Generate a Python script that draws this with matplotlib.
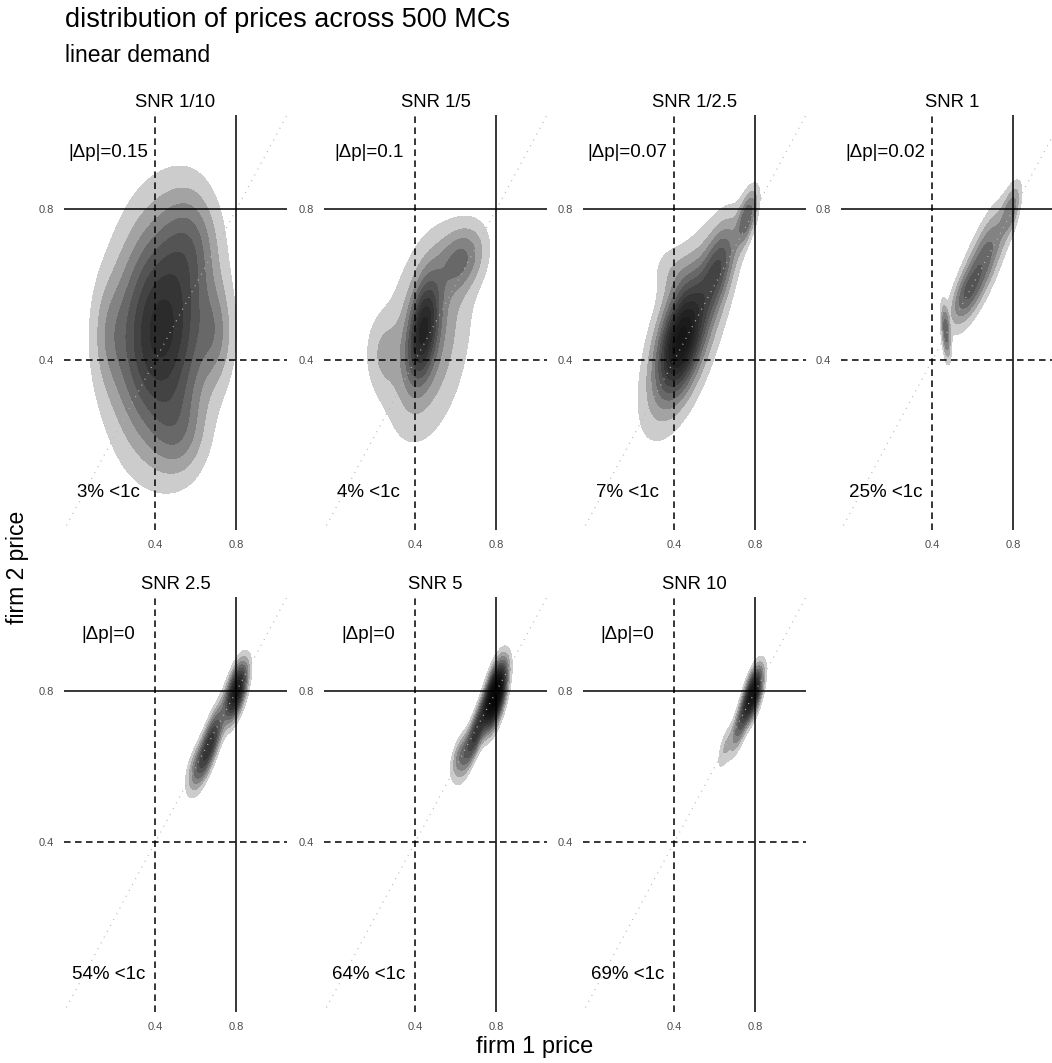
import numpy as np
import matplotlib
matplotlib.use("Agg")
import matplotlib.pyplot as plt

plt.rcParams["font.family"] = ["Liberation Sans", "DejaVu Sans"]

# ---- data -------------------------------------------------------------
snr_labels = ["SNR 1/10", "SNR 1/5", "SNR 1/2.5", "SNR 1", "SNR 2.5", "SNR 5", "SNR 10"]
abs_price_gap = ["0.15", "0.1", "0.07", "0.02", "0", "0", "0"]
share_below_1c = ["3%", "4%", "7%", "25%", "54%", "64%", "69%"]
# number of density bands shown in each panel
density_bands = [8, 9, 11, 5, 10, 16, 11]

# smoothed joint price density per panel, as Gaussian components:
# (firm1 mean, firm2 mean, sd1, sd2, correlation, weight)
comp_snr_1_10 = [
    (0.43, 0.48, 0.155, 0.20, 0.10, 1.00),
    (0.58, 0.72, 0.09, 0.10, 0.00, 0.07),
    (0.52, 0.20, 0.09, 0.08, 0.00, 0.05),
    (0.17, 0.47, 0.06, 0.10, 0.00, 0.03),
    (0.70, 0.47, 0.06, 0.09, 0.00, 0.04),
]
comp_snr_1_5 = [
    (0.44, 0.48, 0.05, 0.09, 0.40, 0.35),
    (0.46, 0.46, 0.14, 0.18, 0.30, 1.00),
    (0.63, 0.67, 0.08, 0.06, 0.30, 0.20),
    (0.24, 0.42, 0.06, 0.07, 0.00, 0.08),
]
comp_snr_1_2_5 = [
    (0.43, 0.45, 0.07, 0.09, 0.45, 0.50),
    (0.46, 0.48, 0.13, 0.16, 0.65, 1.00),
    (0.62, 0.65, 0.06, 0.08, 0.60, 0.20),
    (0.76, 0.78, 0.035, 0.05, 0.60, 0.08),
    (0.38, 0.64, 0.07, 0.05, 0.00, 0.05),
]
comp_snr_1 = [
    (0.65, 0.66, 0.085, 0.100, 0.78, 1.00),
    (0.79, 0.80, 0.030, 0.045, 0.60, 0.12),
    (0.56, 0.57, 0.050, 0.050, 0.60, 0.20),
    (0.467, 0.475, 0.014, 0.050, -0.50, 0.10),
]
comp_snr_2_5 = [
    (0.80, 0.80, 0.035, 0.050, 0.60, 1.00),
    (0.67, 0.66, 0.045, 0.065, 0.80, 0.90),
    (0.60, 0.60, 0.035, 0.045, 0.60, 0.20),
]
comp_snr_5 = [
    (0.795, 0.79, 0.035, 0.055, 0.60, 1.00),
    (0.70, 0.69, 0.045, 0.065, 0.85, 0.45),
    (0.62, 0.63, 0.030, 0.040, 0.60, 0.12),
]
comp_snr_10 = [
    (0.79, 0.795, 0.030, 0.045, 0.60, 1.00),
    (0.73, 0.72, 0.035, 0.055, 0.80, 0.50),
    (0.65, 0.65, 0.025, 0.040, 0.70, 0.12),
]
panel_components = [comp_snr_1_10, comp_snr_1_5, comp_snr_1_2_5, comp_snr_1,
                    comp_snr_2_5, comp_snr_5, comp_snr_10]

price_ticks = [0.4, 0.8]
nash_price = 0.4
monopoly_price = 0.8

# ---- helpers ------------------------------------------------------------
def mixture_density(components, X, Y):
    Z = np.zeros_like(X)
    for m1, m2, s1, s2, r, w in components:
        dx = (X - m1) / s1
        dy = (Y - m2) / s2
        q = (dx * dx - 2 * r * dx * dy + dy * dy) / (1 - r * r)
        Z += w * np.exp(-0.5 * q) / (2 * np.pi * s1 * s2 * np.sqrt(1 - r * r))
    return Z

xlim = (-0.05, 1.05)
ylim = (-0.05, 1.05)
gx = np.linspace(-0.05, 1.15, 480)
gy = np.linspace(-0.05, 1.05, 440)
X, Y = np.meshgrid(gx, gy)

W, H = 1052, 1063
fig = plt.figure(figsize=(W / 100, H / 100), dpi=100)

col_left = [64, 324, 583, 841]
row_top = [115, 597]
pw, ph = 223, 415

tick_color = "#4d4d4d"
for i, comps in enumerate(panel_components):
    r, c = divmod(i, 4)
    ax = fig.add_axes([col_left[c] / W, 1 - (row_top[r] + ph) / H, pw / W, ph / H])
    Z = mixture_density(comps, X, Y)
    Z = Z / Z.max()
    n = density_bands[i]
    levels = [k / (n + 0.5) for k in range(1, n + 1)] + [1.01]
    colors = [str(0.8 ** k) for k in range(1, n + 1)]
    cs = ax.contourf(X, Y, Z, levels=levels, colors=colors)
    cs.set_edgecolor("face")
    cs.set_linewidth(0.4)

    ax.plot([-0.1, 1.2], [-0.1, 1.2], color="#b8b8b8", lw=0.9,
            linestyle=(0, (0.8, 4.5)), solid_capstyle="round")
    ax.axhline(monopoly_price, color="black", lw=1.1)
    ax.axvline(monopoly_price, color="black", lw=1.1)
    ax.axhline(nash_price, color="black", lw=1.1, linestyle=(0, (4.3, 2.9)))
    ax.axvline(nash_price, color="black", lw=1.1, linestyle=(0, (4.3, 2.9)))

    ax.text(0.17, 0.95, f"|\u0394p|={abs_price_gap[i]}", ha="center", va="center",
            fontsize=13.5)
    ax.text(0.17, 0.05, f"{share_below_1c[i]} <1c", ha="center", va="center",
            fontsize=13.5)

    ax.set_xlim(*xlim)
    ax.set_ylim(*ylim)
    ax.set_xticks(price_ticks)
    ax.set_yticks(price_ticks)
    ax.set_xticklabels([f"{t:g}" for t in price_ticks])
    ax.set_yticklabels([f"{t:g}" for t in price_ticks])
    ax.tick_params(length=0, labelsize=8, labelcolor=tick_color, pad=7)
    for s in ax.spines.values():
        s.set_visible(False)
    ax.set_title(snr_labels[i], fontsize=13.3, pad=6)

fig.text(65 / W, 1 - 27 / H, "distribution of prices across 500 MCs",
         fontsize=19.5, ha="left", va="baseline")
fig.text(65 / W, 1 - 62 / H, "linear demand", fontsize=16.5, ha="left", va="baseline")
fig.text(535 / W, 1 - 1047 / H, "firm 1 price", fontsize=17, ha="center", va="center")
fig.text(18 / W, 1 - 567 / H, "firm 2 price", fontsize=16.5, ha="center", va="center",
         rotation=90)

fig.savefig("out.png", dpi=100)
